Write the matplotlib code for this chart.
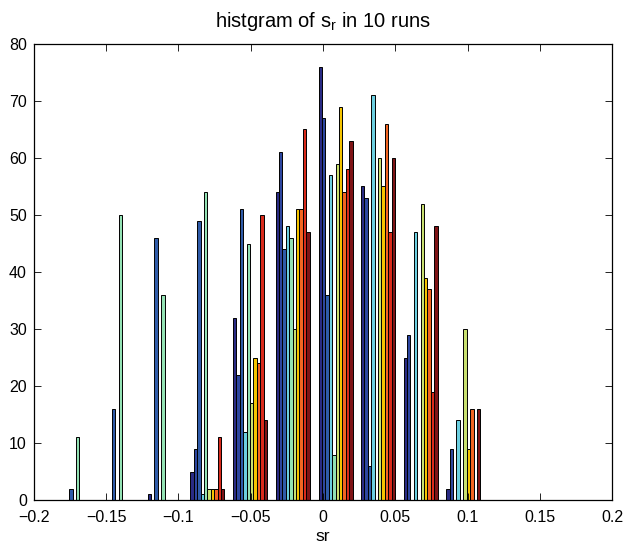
import numpy as np
import matplotlib
matplotlib.use("Agg")
import matplotlib.pyplot as plt

plt.rcParams['font.family'] = ['Liberation Sans', 'DejaVu Sans']

# bin centres of the histogram (sr values)
bin_centers = [-0.1685, -0.139, -0.1095, -0.080, -0.0505, -0.021, 0.0087, 0.038, 0.0675, 0.097]

# counts per run (one list per run, one value per bin)
run1 = [0, 0, 1, 5, 32, 54, 76, 55, 25, 2]
run2 = [0, 0, 0, 9, 22, 61, 67, 53, 29, 9]
run3 = [2, 16, 46, 49, 51, 44, 36, 6, 0, 0]
run4 = [0, 0, 0, 1, 12, 48, 57, 71, 47, 14]
run5 = [11, 50, 36, 54, 45, 46, 8, 0, 0, 0]
run6 = [0, 0, 0, 2, 17, 30, 59, 60, 52, 30]
run7 = [0, 0, 0, 2, 25, 51, 69, 55, 39, 9]
run8 = [0, 0, 0, 2, 24, 51, 54, 66, 37, 16]
run9 = [0, 0, 0, 11, 50, 65, 58, 47, 19, 0]
run10 = [0, 0, 0, 2, 14, 47, 63, 60, 48, 16]
runs = [run1, run2, run3, run4, run5, run6, run7, run8, run9, run10]

colors = ['#2a2b84', '#2d469f', '#2f5ba8', '#6ccfe0', '#93e2b4',
          '#c9e070', '#f5c400', '#f26522', '#d92b1c', '#7f1416']

fig = plt.figure(figsize=(6.26, 5.49), dpi=100)
ax = fig.add_axes([0.054, 0.089, 0.924, 0.831])

x = np.array(bin_centers)
step = 0.0295
w = step * 0.8 / len(runs)
for i, counts in enumerate(runs):
    ax.bar(x + (i - 4.5) * w, counts, width=w, color=colors[i],
           edgecolor='black', linewidth=0.7)

ax.set_xlim(-0.2, 0.2)
ax.set_ylim(0, 80)
ax.set_xticks(np.arange(-0.2, 0.201, 0.05))
ax.set_xticklabels(['\u22120.2', '\u22120.15', '\u22120.1', '\u22120.05', '0',
                    '0.05', '0.1', '0.15', '0.2'])
ax.set_yticks(range(0, 81, 10))
ax.tick_params(direction='in', top=True, right=True, length=5, width=0.6,
               labelsize=11.5)
ax.tick_params(axis='x', pad=7)
ax.tick_params(axis='y', pad=5)
for s in ax.spines.values():
    s.set_linewidth(0.9)

ax.set_title('histgram of $\\mathregular{s_r}$ in 10 runs', fontsize=14.5, pad=12)
ax.set_xlabel('sr', fontsize=12.5, labelpad=3)

fig.savefig('out.png', dpi=100)
